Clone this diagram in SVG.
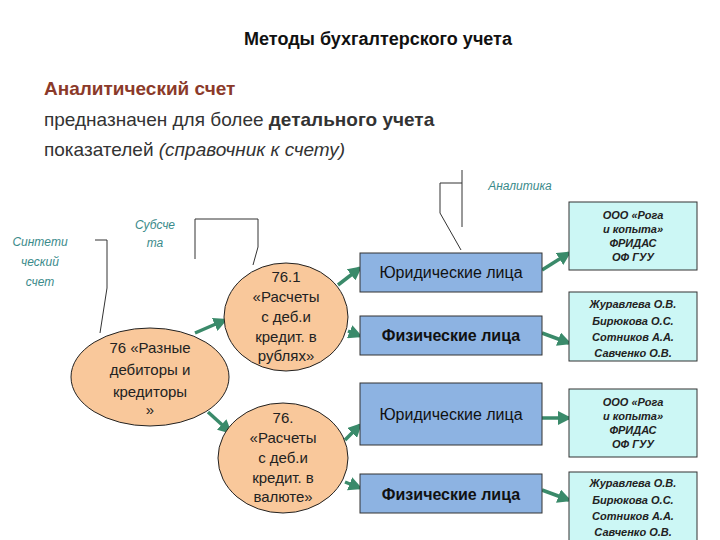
<svg xmlns="http://www.w3.org/2000/svg" width="720" height="540" viewBox="0 0 720 540">
<defs>
<marker id="ar" viewBox="0 0 10 10" refX="8" refY="5" markerWidth="4" markerHeight="4" orient="auto"><path d="M0,0 L10,5 L0,10 z" fill="#3a8a6a"/></marker>
<style>
text{font-family:"Liberation Sans",Arial,sans-serif}
.ell{fill:#f9c89b;stroke:#222;stroke-width:1}
.bx{fill:#8db3e2;stroke:#333;stroke-width:1}
.cb{fill:#ccf7f5;stroke:#333;stroke-width:1}
.et{font-size:15px;fill:#222;text-anchor:middle}
.bt{font-size:16px;fill:#111;text-anchor:middle}
.it{font-size:11px;font-style:italic;font-weight:bold;fill:#222;text-anchor:middle}
.lab{font-size:12px;font-style:italic;fill:#3a8a8a;text-anchor:middle}
.cl{fill:none;stroke:#333;stroke-width:1}
.con{stroke:#3a8a6a;stroke-width:3.5;marker-end:url(#ar)}
</style>
</defs>
<rect width="720" height="540" fill="#fff"/>
<text x="378" y="45" font-size="18" font-weight="bold" fill="#111" text-anchor="middle">Методы бухгалтерского учета</text>
<text x="44" y="95" font-size="19" font-weight="bold" fill="#8b3a2a">Аналитический счет</text>
<text x="44" y="126" font-size="19" fill="#333">предназначен для более <tspan font-weight="bold">детального учета</tspan></text>
<text x="44" y="156" font-size="19" fill="#333">показателей <tspan font-style="italic">(справочник к счету)</tspan></text>
<g id="labels">
<text class="lab" x="40" y="246">Синтети</text><text class="lab" x="40" y="266">ческий</text><text class="lab" x="40" y="286">счет</text>
<text class="lab" x="155" y="229">Субсче</text><text class="lab" x="155" y="247">та</text>
<text class="lab" x="520" y="190">Аналитика</text>
<path class="cl" d="M95,240 H107 V288 L100,333"/>
<path class="cl" d="M195,259 V219 H258 V247 L253,265"/>
<path class="cl" d="M462,170 V227 M462,183 H440 V213 L461,250"/>
</g>
<g id="connectors">
<line class="con" x1="195" y1="333" x2="225" y2="320"/>
<line class="con" x1="208" y1="412" x2="230" y2="432"/>
<line class="con" x1="338" y1="285" x2="360" y2="268"/>
<line class="con" x1="348" y1="331" x2="360" y2="336"/>
<line class="con" x1="345" y1="440" x2="360" y2="425"/>
<line class="con" x1="345" y1="482" x2="360" y2="488"/>
<line class="con" x1="542" y1="270" x2="569" y2="253"/>
<line class="con" x1="542" y1="333" x2="569" y2="343"/>
<line class="con" x1="542" y1="418" x2="569" y2="418"/>
<line class="con" x1="542" y1="490" x2="569" y2="500"/>
</g>
<g id="n76"><ellipse class="ell" cx="150" cy="377" rx="79" ry="49"/>
<text class="et" x="150" y="353" font-size="16">76 «Разные</text><text class="et" x="150" y="375" font-size="16">дебиторы и</text><text class="et" x="150" y="397" font-size="16">кредиторы</text><text class="et" x="150" y="415" font-size="16">»</text></g>
<g id="n761"><ellipse class="ell" cx="286" cy="317" rx="62" ry="54"/>
<text class="et" x="286" y="282" font-size="14">76.1</text><text class="et" x="286" y="302" font-size="14">«Расчеты</text><text class="et" x="286" y="322" font-size="14">с деб.и</text><text class="et" x="286" y="342" font-size="14">кредит. в</text><text class="et" x="286" y="361" font-size="14">рублях»</text></g>
<g id="n762"><ellipse class="ell" cx="283" cy="458" rx="65" ry="55"/>
<text class="et" x="283" y="423" font-size="14">76.</text><text class="et" x="283" y="443" font-size="14">«Расчеты</text><text class="et" x="283" y="463" font-size="14">с деб.и</text><text class="et" x="283" y="483" font-size="14">кредит. в</text><text class="et" x="283" y="502" font-size="14">валюте»</text></g>
<g id="b1"><rect class="bx" x="360" y="253" width="182" height="39"/><text class="bt" x="451" y="278">Юридические лица</text></g>
<g id="b2"><rect class="bx" x="360" y="316" width="182" height="39"/><text class="bt" x="451" y="341" font-weight="bold" font-size="15">Физические лица</text></g>
<g id="b3"><rect class="bx" x="360" y="383" width="182" height="62"/><text class="bt" x="451" y="420">Юридические лица</text></g>
<g id="b4"><rect class="bx" x="360" y="474" width="182" height="39"/><text class="bt" x="451" y="500" font-weight="bold" font-size="15">Физические лица</text></g>
<g id="c1"><rect class="cb" x="569" y="202" width="128" height="68"/>
<text class="it" x="633" y="219">ООО «Рога</text><text class="it" x="633" y="233">и копыта»</text><text class="it" x="633" y="247">ФРИДАС</text><text class="it" x="633" y="261">ОФ ГУУ</text></g>
<g id="c2"><rect class="cb" x="569" y="292" width="128" height="69"/>
<text class="it" x="633" y="308" font-size="12.5">Журавлева О.В.</text><text class="it" x="633" y="325" font-size="12.5">Бирюкова О.С.</text><text class="it" x="633" y="341" font-size="12.5">Сотников А.А.</text><text class="it" x="633" y="357" font-size="12.5">Савченко О.В.</text></g>
<g id="c3"><rect class="cb" x="569" y="389" width="128" height="68"/>
<text class="it" x="633" y="406">ООО «Рога</text><text class="it" x="633" y="420">и копыта»</text><text class="it" x="633" y="434">ФРИДАС</text><text class="it" x="633" y="448">ОФ ГУУ</text></g>
<g id="c4"><rect class="cb" x="569" y="472" width="128" height="75"/>
<text class="it" x="633" y="487" font-size="12.5">Журавлева О.В.</text><text class="it" x="633" y="504" font-size="12.5">Бирюкова О.С.</text><text class="it" x="633" y="520" font-size="12.5">Сотников А.А.</text><text class="it" x="633" y="536" font-size="12.5">Савченко О.В.</text></g>
</svg>
